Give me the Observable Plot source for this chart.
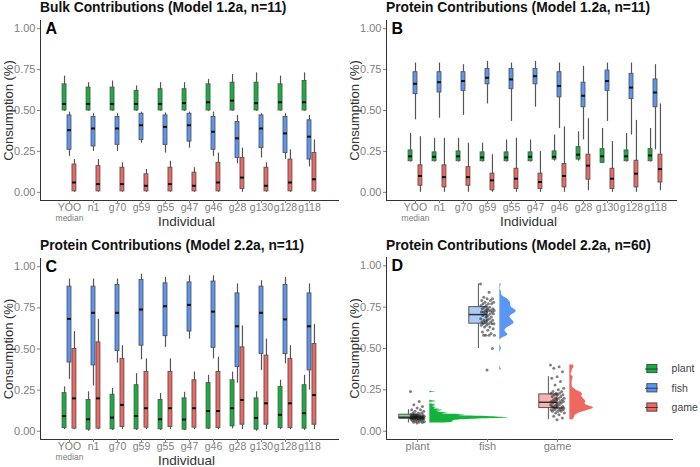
<!DOCTYPE html>
<html>
<head>
<meta charset="utf-8">
<script src="https://cdn.jsdelivr.net/npm/d3@7"></script>
<script src="https://cdn.jsdelivr.net/npm/@observablehq/plot@0.6"></script>
<style>
  body { margin: 0; background: #fff; }
  #fig { position: relative; width: 700px; height: 467px; overflow: hidden;
         font-family: "Liberation Sans", Arial, sans-serif; }
  .panel { position: absolute; }
  .title { height: 16px; line-height: 16px; font-size: 13.8px; font-weight: bold;
           color: #111; white-space: nowrap; }
  .panel svg, .legend svg { display: block; }
  .legend { position: absolute; }
</style>
</head>
<body>
<div id="fig"></div>
<script>
// ---- data -------------------------------------------------------------
const individuals = ["YOO", "n1", "g70", "g59", "g55", "g47", "g46", "g28", "g130", "g128", "g118"];
const sources = ["plant", "fish", "game"];
const sourceColors = ["#12b23c", "#5a96f6", "#f0675f"];
const yTicks = [0, 0.25, 0.5, 0.75, 1];

// Each row: [lower whisker, q1, median, q3, upper whisker], one row per individual
const bulk12Plant = [
  [0.495, 0.50, 0.54, 0.66, 0.71], [0.495, 0.50, 0.54, 0.64, 0.67], [0.495, 0.50, 0.54, 0.64, 0.68],
  [0.495, 0.50, 0.54, 0.62, 0.65], [0.495, 0.50, 0.54, 0.63, 0.67], [0.495, 0.50, 0.545, 0.63, 0.67],
  [0.495, 0.50, 0.55, 0.66, 0.69], [0.495, 0.50, 0.56, 0.67, 0.72], [0.495, 0.50, 0.545, 0.67, 0.73],
  [0.495, 0.50, 0.55, 0.66, 0.71], [0.495, 0.50, 0.55, 0.68, 0.73]
];
const bulk12Fish = [
  [0.22, 0.26, 0.38, 0.47, 0.49], [0.25, 0.28, 0.39, 0.46, 0.48], [0.25, 0.29, 0.39, 0.46, 0.48],
  [0.30, 0.32, 0.41, 0.48, 0.49], [0.24, 0.29, 0.40, 0.47, 0.485], [0.27, 0.31, 0.41, 0.48, 0.49],
  [0.22, 0.26, 0.37, 0.46, 0.49], [0.175, 0.21, 0.33, 0.43, 0.47], [0.21, 0.27, 0.39, 0.47, 0.48],
  [0.20, 0.24, 0.36, 0.46, 0.48], [0.155, 0.20, 0.34, 0.44, 0.47]
];
const bulk12Game = [
  [0, 0.006, 0.06, 0.17, 0.20], [0, 0.006, 0.05, 0.16, 0.20], [0, 0.006, 0.05, 0.15, 0.18],
  [0, 0.006, 0.04, 0.11, 0.14], [0, 0.006, 0.05, 0.15, 0.19], [0, 0.006, 0.04, 0.12, 0.15],
  [0, 0.006, 0.06, 0.18, 0.24], [0, 0.02, 0.09, 0.21, 0.27], [0, 0.006, 0.04, 0.15, 0.18],
  [0, 0.006, 0.06, 0.20, 0.26], [0, 0.006, 0.08, 0.24, 0.32]
];

const protein12Plant = [
  [0.185, 0.19, 0.22, 0.256, 0.36], [0.185, 0.19, 0.217, 0.244, 0.33], [0.185, 0.19, 0.22, 0.25, 0.33],
  [0.185, 0.19, 0.213, 0.244, 0.30], [0.185, 0.19, 0.213, 0.244, 0.32], [0.185, 0.19, 0.217, 0.244, 0.32],
  [0.19, 0.20, 0.217, 0.25, 0.35], [0.19, 0.20, 0.23, 0.276, 0.37], [0.175, 0.18, 0.22, 0.264, 0.39],
  [0.185, 0.19, 0.22, 0.256, 0.36], [0.185, 0.19, 0.225, 0.264, 0.39]
];
const protein12Fish = [
  [0.443, 0.60, 0.663, 0.734, 0.79], [0.453, 0.61, 0.673, 0.734, 0.79], [0.47, 0.62, 0.68, 0.734, 0.78],
  [0.54, 0.66, 0.70, 0.754, 0.80], [0.433, 0.63, 0.69, 0.754, 0.79], [0.52, 0.66, 0.71, 0.754, 0.80],
  [0.39, 0.58, 0.65, 0.734, 0.79], [0.32, 0.52, 0.59, 0.67, 0.77], [0.433, 0.62, 0.68, 0.744, 0.79],
  [0.35, 0.57, 0.64, 0.724, 0.79], [0.26, 0.52, 0.61, 0.69, 0.78]
];
const protein12Game = [
  [0, 0.04, 0.10, 0.165, 0.34], [0, 0.03, 0.093, 0.165, 0.33], [0, 0.04, 0.093, 0.154, 0.30],
  [0, 0.012, 0.073, 0.114, 0.23], [0, 0.02, 0.083, 0.144, 0.33], [0, 0.02, 0.063, 0.114, 0.25],
  [0, 0.03, 0.10, 0.173, 0.40], [0.01, 0.077, 0.163, 0.23, 0.45], [0, 0.02, 0.083, 0.144, 0.31],
  [0, 0.03, 0.114, 0.193, 0.44], [0.01, 0.06, 0.142, 0.23, 0.54]
];

const protein22Plant = [
  [0.01, 0.02, 0.093, 0.232, 0.27], [0, 0.01, 0.073, 0.19, 0.24], [0.005, 0.012, 0.083, 0.222, 0.26],
  [0.005, 0.012, 0.093, 0.28, 0.35], [0.005, 0.012, 0.073, 0.19, 0.23], [0.005, 0.01, 0.071, 0.20, 0.237],
  [0.01, 0.016, 0.123, 0.293, 0.34], [0.015, 0.03, 0.14, 0.31, 0.36], [0, 0.01, 0.081, 0.20, 0.24],
  [0.01, 0.02, 0.10, 0.27, 0.31], [0.005, 0.016, 0.11, 0.28, 0.34]
];
const protein22Fish = [
  [0.315, 0.418, 0.683, 0.879, 0.925], [0.275, 0.40, 0.72, 0.879, 0.925], [0.414, 0.487, 0.72, 0.889, 0.925],
  [0.434, 0.52, 0.74, 0.92, 0.955], [0.51, 0.578, 0.76, 0.899, 0.935], [0.56, 0.606, 0.768, 0.905, 0.945],
  [0.44, 0.507, 0.727, 0.91, 0.945], [0.293, 0.39, 0.638, 0.838, 0.895], [0.37, 0.469, 0.72, 0.879, 0.915],
  [0.41, 0.469, 0.68, 0.889, 0.935], [0.25, 0.37, 0.638, 0.838, 0.895]
];
const protein22Game = [
  [0.01, 0.016, 0.20, 0.50, 0.606], [0.01, 0.016, 0.20, 0.54, 0.68], [0.01, 0.026, 0.16, 0.44, 0.52],
  [0.01, 0.022, 0.14, 0.36, 0.44], [0.01, 0.026, 0.14, 0.36, 0.44], [0.01, 0.022, 0.14, 0.31, 0.36],
  [0.01, 0.02, 0.123, 0.36, 0.45], [0.01, 0.04, 0.19, 0.51, 0.64], [0.01, 0.04, 0.17, 0.46, 0.56],
  [0.01, 0.02, 0.17, 0.44, 0.52], [0.01, 0.04, 0.22, 0.53, 0.65]
];

// Posterior medians for the n=60 model, one value per individual
const n60Plant = [
  0.24, 0.18, 0.16, 0.15, 0.14, 0.13, 0.13, 0.12, 0.12, 0.11, 0.11, 0.11, 0.10, 0.10, 0.10,
  0.10, 0.10, 0.095, 0.095, 0.09, 0.09, 0.09, 0.09, 0.09, 0.088, 0.087, 0.086, 0.085, 0.085, 0.085,
  0.084, 0.083, 0.082, 0.082, 0.081, 0.080, 0.080, 0.080, 0.080, 0.079, 0.078, 0.078, 0.077, 0.076, 0.075,
  0.074, 0.073, 0.072, 0.071, 0.070, 0.068, 0.066, 0.064, 0.062, 0.060, 0.058, 0.056, 0.054, 0.052, 0.050
];
const n60Fish = [
  0.89, 0.84, 0.81, 0.80, 0.80, 0.79, 0.79, 0.78, 0.78, 0.77, 0.77, 0.77, 0.76, 0.76, 0.75,
  0.75, 0.74, 0.74, 0.74, 0.73, 0.73, 0.73, 0.73, 0.72, 0.72, 0.72, 0.72, 0.71, 0.71, 0.71,
  0.70, 0.70, 0.69, 0.69, 0.68, 0.68, 0.67, 0.67, 0.67, 0.66, 0.66, 0.66, 0.65, 0.65, 0.65,
  0.65, 0.64, 0.64, 0.63, 0.63, 0.62, 0.61, 0.60, 0.59, 0.58, 0.58, 0.58, 0.58, 0.50, 0.37
];
const n60Game = [
  0.40, 0.39, 0.38, 0.36, 0.33, 0.32, 0.30, 0.28, 0.26, 0.25, 0.24, 0.24, 0.23, 0.23, 0.23,
  0.22, 0.22, 0.22, 0.21, 0.21, 0.20, 0.20, 0.20, 0.19, 0.19, 0.19, 0.18, 0.18, 0.18, 0.18,
  0.17, 0.17, 0.17, 0.16, 0.16, 0.16, 0.15, 0.15, 0.15, 0.15, 0.14, 0.14, 0.14, 0.14, 0.14,
  0.14, 0.14, 0.13, 0.13, 0.13, 0.13, 0.12, 0.12, 0.12, 0.11, 0.11, 0.10, 0.09, 0.08, 0.07
];

// ---- shared styling -----------------------------------------------------
const FONT = '"Liberation Sans", Arial, sans-serif';
const TICK_GREY = "#808080";
const AXIS_DARK = "#333";
const color = {domain: sources, range: sourceColors};

const yScale = {domain: [-0.05, 1.05]};
const yAxisMarks = () => [
  Plot.axisY(yTicks, {tickFormat: d3.format(".2f"), tickSize: 3, tickPadding: 2,
    fontSize: 11, color: TICK_GREY, label: null}),
  Plot.frame({anchor: "left", stroke: AXIS_DARK}),
  Plot.frame({anchor: "bottom", stroke: AXIS_DARK}),
  Plot.text(["Consumption (%)"], {frameAnchor: "left", rotate: -90, dx: -32,
    fontSize: 13, fill: "#333", lineAnchor: "middle", textAnchor: "middle"})
];
const xAxisOpts = {tickSize: 3, tickPadding: 0, fontSize: 10.5, color: TICK_GREY, label: null};
const letterMark = (letter) => Plot.text([letter], {frameAnchor: "top-left", dx: 5, dy: 8,
  fontSize: 16, fontWeight: "bold", fill: "#000", lineAnchor: "middle", textAnchor: "start"});

function addPanel(left, top, titleText, titleIndent, plot) {
  const div = document.createElement("div");
  div.className = "panel";
  div.style.left = left + "px";
  div.style.top = top + "px";
  const t = document.createElement("div");
  t.className = "title";
  t.style.paddingLeft = titleIndent + "px";
  t.textContent = titleText;
  div.append(t, plot);
  document.getElementById("fig").append(div);
}

// ---- dodged per-individual box plots (panels A, B, C) -------------------
const GROUP_PAD = 0.41;  // gap between individuals, as a share of each step
const BOX_W = 4.6;       // box width in px
const DODGE = 4.95;      // px between neighbouring boxes of one individual

function boxPanel({rows, letter, width, marginLeft, marginRight, xRange, marginTop, height}) {
  const data = sources.flatMap((source, si) => rows[si].map(([lo, q1, med, q3, hi], i) =>
    ({individual: individuals[i], source, lo, q1, med, q3, hi})));
  const bw = (xRange[1] - xRange[0]) / individuals.length * (1 - GROUP_PAD);
  const marks = [];
  sources.forEach((source, si) => {
    const d = data.filter((r) => r.source === source);
    const k = si - 1;
    const insetLeft = bw / 2 + k * DODGE - BOX_W / 2;
    const insetRight = bw - insetLeft - BOX_W;
    marks.push(
      Plot.ruleX(d, {x: "individual", y1: "lo", y2: "hi", dx: k * DODGE, stroke: "#555", strokeWidth: 1.2}),
      Plot.barY(d, {x: "individual", y1: "q1", y2: "q3", fill: "source", stroke: "#555",
        strokeWidth: 0.9, insetLeft, insetRight}),
      Plot.tickY(d, {x: "individual", y: "med", stroke: "#111", strokeWidth: 2, insetLeft, insetRight})
    );
  });
  return Plot.plot({
    width, height, marginLeft, marginRight, marginTop, marginBottom: 30,
    style: {fontFamily: FONT, background: "transparent"},
    x: {domain: individuals, range: xRange, paddingInner: GROUP_PAD, paddingOuter: GROUP_PAD / 2},
    y: yScale,
    color,
    marks: [
      ...marks,
      ...yAxisMarks(),
      Plot.axisX(xAxisOpts),
      Plot.text(["median"], {x: () => "YOO", frameAnchor: "bottom", dy: 18, fontSize: 8.5,
        fill: TICK_GREY, lineAnchor: "middle"}),
      Plot.text(["Individual"], {frameAnchor: "bottom", dy: 21.5, dx: -3, fontSize: 13.5, fill: "#333",
        lineAnchor: "middle"}),
      letterMark(letter)
    ]
  });
}

addPanel(0, 0, "Bulk Contributions (Model 1.2a, n=11)", 40,
  boxPanel({rows: [bulk12Plant, bulk12Fish, bulk12Game], letter: "A", width: 340,
    marginLeft: 40, marginRight: 2, xRange: [51.9, 325.4], marginTop: 4, height: 214}));
addPanel(340, 0, "Protein Contributions (Model 1.2a, n=11)", 46,
  boxPanel({rows: [protein12Plant, protein12Fish, protein12Game], letter: "B", width: 360,
    marginLeft: 46, marginRight: 24, xRange: [58.6, 332.1], marginTop: 4, height: 214}));
addPanel(0, 238, "Protein Contributions (Model 2.2a, n=11)", 40,
  boxPanel({rows: [protein22Plant, protein22Fish, protein22Game], letter: "C", width: 340,
    marginLeft: 40, marginRight: 2, xRange: [51.9, 325.4], marginTop: 4, height: 215}));

// ---- raincloud panel (D) -------------------------------------------------
const BOX_SHIFT = -0.13;   // box centre relative to the category, in x units
const BOX_HALF = 0.13;
const JITTER = 0.1;
const SLAB_START = 0.176;
const SLAB_MAX = 1.12;     // widest slab, in x units

function nrd0(v) {
  const sd = d3.deviation(v);
  const iqr = d3.quantile(v, 0.75) - d3.quantile(v, 0.25);
  return 0.9 * Math.min(sd, iqr / 1.34) * Math.pow(v.length, -0.2);
}
function kde(values, bw, steps = 200) {
  const [lo, hi] = d3.extent(values);
  const norm = values.length * bw * Math.sqrt(2 * Math.PI);
  return d3.range(steps + 1).map((j) => {
    const y = lo + (hi - lo) * j / steps;
    const s = d3.sum(values, (v) => Math.exp(-0.5 * ((y - v) / bw) ** 2));
    return {y, d: s / norm};
  });
}

const n60 = [n60Plant, n60Fish, n60Game];
const stats = sources.map((source, si) => {
  const v = n60[si].slice().sort(d3.ascending);
  const q1 = d3.quantile(v, 0.25), med = d3.quantile(v, 0.5), q3 = d3.quantile(v, 0.75);
  const iqr = q3 - q1;
  const lo = d3.min(v.filter((x) => x >= q1 - 1.5 * iqr));
  const hi = d3.max(v.filter((x) => x <= q3 + 1.5 * iqr));
  return {source, pos: si + 1, q1, med, q3, lo, hi};
});
const points = sources.flatMap((source, si) => n60[si].map((value, i) =>
  ({source, pos: si + 1, value, jitter: (((i * 0.6180339) % 1) - 0.5) * 2 * JITTER})));
const slabs = sources.map((source, si) => kde(n60[si], nrd0(n60[si]) * 0.4)
  .map((r) => ({source, pos: si + 1, ...r})));
const dMax = d3.max(slabs.flat(), (r) => r.d);
const slabRows = slabs.flat();

const panelD = Plot.plot({
  width: 360, height: 215, marginLeft: 46, marginRight: 28, marginTop: 3, marginBottom: 30,
  style: {fontFamily: FONT, background: "transparent"},
  x: {domain: [0.557, 4.643]},
  y: yScale,
  color,
  marks: [
    Plot.areaX(slabRows, {y: "y", x1: (r) => r.pos + SLAB_START,
      x2: (r) => r.pos + SLAB_START + r.d / dMax * SLAB_MAX, z: "source", fill: "source"}),
    Plot.ruleX(stats, {x: (s) => s.pos + BOX_SHIFT, y1: "lo", y2: "hi", stroke: "#555", strokeWidth: 1}),
    Plot.rect(stats, {x1: (s) => s.pos + BOX_SHIFT - BOX_HALF, x2: (s) => s.pos + BOX_SHIFT + BOX_HALF,
      y1: "q1", y2: "q3", fill: "#fff"}),
    Plot.rect(stats, {x1: (s) => s.pos + BOX_SHIFT - BOX_HALF, x2: (s) => s.pos + BOX_SHIFT + BOX_HALF,
      y1: "q1", y2: "q3", fill: "source", fillOpacity: 0.5, stroke: "#555", strokeWidth: 1}),
    Plot.ruleY(stats, {y: "med", x1: (s) => s.pos + BOX_SHIFT - BOX_HALF,
      x2: (s) => s.pos + BOX_SHIFT + BOX_HALF, stroke: "#333", strokeWidth: 1.5}),
    Plot.dot(points, {x: (p) => p.pos + p.jitter, y: "value", r: 1.5, fill: "#1a1a1a", fillOpacity: 0.55}),
    ...yAxisMarks(),
    Plot.axisX([1, 2, 3], {...xAxisOpts, fontSize: 11, tickFormat: (i) => sources[i - 1]}),
    letterMark("D")
  ]
});
addPanel(340, 238, "Protein Contributions (Model 2.2a, n=60)", 46, panelD);

// legend: box-plot keys for the three sources
const legend = Plot.plot({
  width: 60, height: 66, marginLeft: 0, marginRight: 46, marginTop: 0, marginBottom: 0,
  style: {fontFamily: FONT, background: "transparent", overflow: "visible"},
  x: {domain: ["key"], range: [1.7, 13.3], padding: 0, axis: null},
  y: {domain: sources, range: [0.7, 64.3], padding: 0, axis: null},
  color,
  marks: [
    Plot.ruleX(sources, {x: () => "key", y: (s) => s, insetTop: 4, insetBottom: 4, stroke: "#444"}),
    Plot.cell(sources, {x: () => "key", y: (s) => s, fill: (s) => s, stroke: "#444",
      insetTop: 6, insetBottom: 6}),
    Plot.ruleY(sources, {y: (s) => s, stroke: "#333", strokeWidth: 1}),
    Plot.text(sources, {x: () => "key", y: (s) => s, text: (s) => s, dx: 21, textAnchor: "start",
      fontSize: 11.5, fill: "#444"})
  ]
});
const lg = document.createElement("div");
lg.className = "legend";
lg.style.left = "645px";
lg.style.top = "358px";
lg.append(legend);
document.getElementById("fig").append(lg);
</script>
</body>
</html>
